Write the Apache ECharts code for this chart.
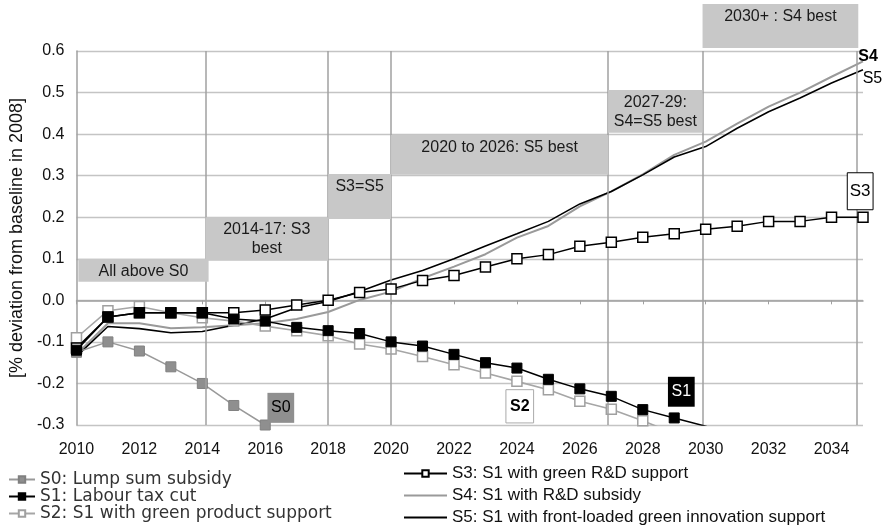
<!DOCTYPE html>
<html><head><meta charset="utf-8">
<script src="https://cdn.jsdelivr.net/npm/echarts@6/dist/echarts.min.js"></script>
<style>html,body{margin:0;padding:0;background:#fff}#c{width:883px;height:530px}</style>
</head><body><div id="c"></div>
<script>
// ---- data ----
const years = [2010,2011,2012,2013,2014,2015,2016,2017,2018,2019,2020,2021,2022,2023,2024,2025,2026,2027,2028,2029,2030,2031,2032,2033,2034,2035];
const seriesNames = [
  'S0: Lump sum subsidy',
  'S1: Labour tax cut',
  'S2: S1 with green product support',
  'S3: S1 with green R&D support',
  'S4: S1 with R&D subsidy',
  'S5: S1 with front-loaded green innovation support'
];
const s0 = [-0.125,-0.10,-0.122,-0.16,-0.20,-0.253,-0.30];
const s1 = [-0.12,-0.04,-0.03,-0.03,-0.03,-0.045,-0.05,-0.065,-0.073,-0.08,-0.10,-0.11,-0.13,-0.15,-0.163,-0.19,-0.213,-0.231,-0.263,-0.283,-0.303,-0.33];
const s2 = [-0.09,-0.025,-0.015,-0.03,-0.042,-0.05,-0.062,-0.073,-0.085,-0.105,-0.117,-0.135,-0.155,-0.175,-0.195,-0.215,-0.243,-0.262,-0.29,-0.32];
const s3 = [-0.115,-0.04,-0.03,-0.03,-0.03,-0.03,-0.023,-0.011,0.0,0.019,0.027,0.048,0.06,0.08,0.10,0.11,0.13,0.14,0.152,0.16,0.171,0.178,0.19,0.19,0.20,0.20];
const s4 = [-0.13,-0.055,-0.055,-0.067,-0.065,-0.06,-0.055,-0.045,-0.028,0.001,0.021,0.053,0.081,0.111,0.151,0.179,0.226,0.262,0.303,0.35,0.382,0.425,0.466,0.50,0.538,0.575];
const s5 = [-0.135,-0.063,-0.068,-0.078,-0.075,-0.06,-0.045,-0.018,-0.003,0.021,0.049,0.072,0.10,0.131,0.16,0.19,0.232,0.262,0.302,0.345,0.37,0.414,0.454,0.487,0.523,0.555];
const periodYears = [2014.1, 2018, 2020, 2026.9, 2029.9, 2034.8];
const periodTexts = ['All above S0', '2014-17: S3\nbest', 'S3=S5', '2020 to 2026: S5 best', '2027-29:\nS4=S5 best', '2030+ : S4 best'];
const yAxisTitle = '[% deviation from baseline in 2008]';

// ---- chart ----
const pairs = arr => arr.map((v, i) => [years[i], v]);
const FONT = 'Liberation Sans';
const chart = echarts.init(document.getElementById('c'), null, {renderer: 'canvas'});

const option = {
  animation: false,
  backgroundColor: '#fff',
  grid: {left: 68, right: 20, top: 51, bottom: 105, containLabel: false},
  xAxis: {
    type: 'value', min: 2010, max: 2035, interval: 2,
    axisLine: {show: true, lineStyle: {color: '#a0a0a0', width: 1.5}},
    axisTick: {show: true, length: 4, lineStyle: {color: '#a0a0a0'}},
    splitLine: {show: false},
    axisLabel: {showMaxLabel: false, margin: 17, color: '#111', fontFamily: FONT, fontSize: 16, formatter: v => String(v)}
  },
  yAxis: {
    type: 'value', min: -0.3, max: 0.6, interval: 0.1,
    name: yAxisTitle, nameLocation: 'middle', nameGap: 50, nameRotate: 90,
    nameTextStyle: {color: '#111', fontFamily: FONT, fontSize: 18},
    axisLine: {show: true, lineStyle: {color: '#a0a0a0', width: 1.5}},
    axisTick: {show: false},
    splitLine: {show: true, lineStyle: {color: '#c4c4c4', width: 1.3}},
    axisLabel: {margin: 12, color: '#111', fontFamily: FONT, fontSize: 16,
      formatter: v => (Math.abs(v) < 1e-9 ? 0 : v).toFixed(1)}
  },
  legend: [
    {data: seriesNames.slice(0, 3), orient: 'vertical', left: 8, top: 471, padding: 0,
     itemWidth: 26, itemHeight: 8, itemGap: 0, selectedMode: false,
     textStyle: {fontFamily: 'DejaVu Sans', fontSize: 17, color: '#333'}},
    {data: [seriesNames[3], {name: seriesNames[4], itemStyle: {opacity: 0}}, {name: seriesNames[5], itemStyle: {opacity: 0}}],
     orient: 'vertical', left: 403, top: 465, padding: 0,
     itemWidth: 43, itemHeight: 8, itemGap: 5, selectedMode: false,
     textStyle: {fontFamily: FONT, fontSize: 17, color: '#111'}}
  ],
  series: [
    {name: seriesNames[4], type: 'line', data: pairs(s4), symbol: 'none', z: 2,
     lineStyle: {color: '#9a9a9a', width: 2}, itemStyle: {color: '#9a9a9a'},
     markLine: {silent: true, symbol: ['none', 'none'], label: {show: false},
       lineStyle: {color: '#a0a0a0', width: 1.5, type: 'solid'},
       data: periodYears.map(x => ({xAxis: x}))}},
    {name: seriesNames[5], type: 'line', data: pairs(s5), symbol: 'none', z: 3,
     lineStyle: {color: '#000', width: 1.6}, itemStyle: {color: '#000'}},
    {name: seriesNames[0], type: 'line', data: pairs(s0), symbol: 'rect', symbolSize: 10, z: 3,
     lineStyle: {color: '#999', width: 1.5}, itemStyle: {color: '#8f8f8f', borderColor: '#808080', borderWidth: 1}},
    {name: seriesNames[2], type: 'line', data: pairs(s2), symbol: 'rect', symbolSize: 10, z: 4,
     lineStyle: {color: '#a6a6a6', width: 1.6}, itemStyle: {color: '#fff', borderColor: '#a0a0a0', borderWidth: 1.5}},
    {name: seriesNames[3], type: 'line', data: pairs(s3), symbol: 'rect', symbolSize: 10, z: 5,
     lineStyle: {color: '#000', width: 1.5}, itemStyle: {color: '#fff', borderColor: '#000', borderWidth: 1.5}},
    {name: seriesNames[1], type: 'line', data: pairs(s1), symbol: 'rect', symbolSize: 10, z: 6,
     lineStyle: {color: '#000', width: 1.5}, itemStyle: {color: '#000', borderColor: '#000', borderWidth: 1}}
  ]
};
chart.setOption(option);

// ---- annotations (positioned in data space, converted via the axes) ----
const P = (x, y) => chart.convertToPixel({gridIndex: 0}, [x, y]);
const periodBoxes = [
  [2010.06, 0.1, 2014.2, 0.045],
  [2014.1, 0.2, 2018, 0.095],
  [2018, 0.304, 2020, 0.196],
  [2020, 0.398, 2026.9, 0.302],
  [2026.9, 0.506, 2029.9, 0.403],
  [2029.9, 0.713, 2034.85, 0.607]
];
const graphics = [];
periodBoxes.forEach((b, i) => {
  const a = P(b[0], b[1]), c = P(b[2], b[3]);
  graphics.push({type: 'rect', z: 50, silent: true,
    shape: {x: a[0], y: a[1], width: c[0] - a[0], height: c[1] - a[1]},
    style: {fill: '#c8c8c8'}});
  graphics.push({type: 'text', z: 51, silent: true, x: (a[0] + c[0]) / 2, y: a[1] + 3,
    style: {text: periodTexts[i], fill: '#1a1a1a', font: '16px "Liberation Sans"',
      align: 'center', verticalAlign: 'top', lineHeight: 19}});
});
// series tags
const tags = [
  {t: 'S0', box: [2016.07, -0.2226, 2016.92, -0.2948], fill: '#8f8f8f', stroke: null, color: '#000', font: '16px "Liberation Sans"'},
  {t: 'S1', box: [2028.8, -0.184, 2029.65, -0.256], fill: '#000', stroke: null, color: '#fff', font: '16px "Liberation Sans"'},
  {t: 'S2', box: [2023.65, -0.215, 2024.53, -0.295], fill: '#fff', stroke: '#aaaaaa', color: '#000', font: 'bold 16px "Liberation Sans"'},
  {t: 'S3', box: [2034.5, 0.307, 2035.32, 0.218], fill: '#fff', stroke: '#000', color: '#000', font: '17px "Liberation Sans"'}
];
tags.forEach(g => {
  const a = P(g.box[0], g.box[1]), c = P(g.box[2], g.box[3]);
  graphics.push({type: 'rect', z: 52, silent: true,
    shape: {x: a[0], y: a[1], width: c[0] - a[0], height: c[1] - a[1]},
    style: {fill: g.fill, stroke: g.stroke || null, lineWidth: 1}});
  graphics.push({type: 'text', z: 53, silent: true, x: (a[0] + c[0]) / 2, y: (a[1] + c[1]) / 2,
    style: {text: g.t, fill: g.color, font: g.font, align: 'center', verticalAlign: 'middle'}});
});
const s4Pos = P(2035.16, 0.586), s5Pos = P(2035.3, 0.533);
graphics.push({type: 'text', z: 53, silent: true, x: s4Pos[0], y: s4Pos[1],
  style: {text: 'S4', fill: '#000', font: 'bold 16px "Liberation Sans"', align: 'center', verticalAlign: 'middle'}});
graphics.push({type: 'text', z: 53, silent: true, x: s5Pos[0], y: s5Pos[1],
  style: {text: 'S5', fill: '#000', font: '16px "Liberation Sans"', align: 'center', verticalAlign: 'middle'}});
chart.setOption({graphic: graphics});
</script>
</body></html>
